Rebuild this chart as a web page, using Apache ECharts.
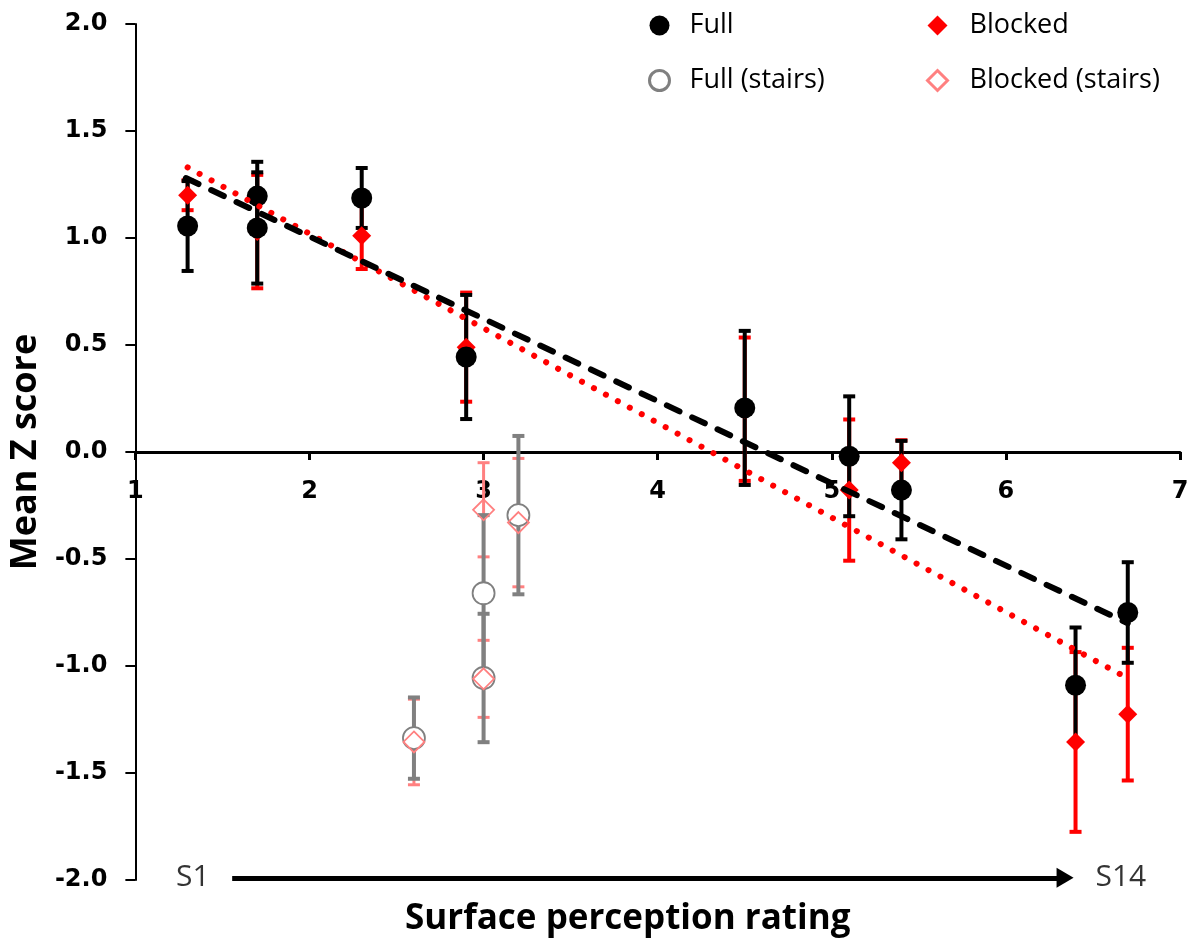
<!DOCTYPE html>
<html>
<head>
    <meta charset="utf-8" />
    <title>Mean Z score vs surface perception rating</title>
    <script src="https://cdn.jsdelivr.net/npm/echarts@6/dist/echarts.min.js"></script>
    <style type="text/css">
        html, body { margin: 0; padding: 0; background: #fff; }
        #chart { width: 1193px; height: 945px; }
    </style>
</head>
<body>
    <div id="chart"></div>
    <script>
        // Full vision
        var fullX = [1.3, 1.7, 1.7, 2.3, 2.9, 4.5, 5.1, 5.4, 6.4, 6.7];
        var fullY = [1.056, 1.196, 1.047, 1.187, 0.444, 0.206, -0.02, -0.178, -1.09, -0.75];
        var fullErr = [0.21, 0.16, 0.26, 0.14, 0.29, 0.36, 0.28, 0.23, 0.27, 0.235];

        // Blocked vision
        var blockedX = [1.3, 1.7, 2.3, 2.9, 4.5, 5.1, 5.4, 6.4, 6.7];
        var blockedY = [1.20, 1.03, 1.01, 0.49, 0.20, -0.178, -0.05, -1.355, -1.225];
        var blockedErr = [0.07, 0.265, 0.155, 0.255, 0.335, 0.33, 0.105, 0.42, 0.31];

        // stairs
        var fullStairsX = [2.6, 3.0, 3.0, 3.2];
        var fullStairsY = [-1.337, -0.66, -1.056, -0.295];
        var fullStairsErr = [0.19, 0.365, 0.30, 0.37];

        var blockedStairsX = [2.6, 3.0, 3.0, 3.2];
        var blockedStairsY = [-1.355, -0.27, -1.06, -0.33];
        var blockedStairsErr = [0.20, 0.22, 0.18, 0.30];

        // trend lines (end points)
        var fullTrendX = [1.29, 6.70];
        var fullTrendY = [1.28, -0.80];
        var blockedTrendX = [1.30, 6.66];
        var blockedTrendY = [1.33, -1.04];

        var xTicks = [1, 2, 3, 4, 5, 6, 7];
        var yTicks = [-2.0, -1.5, -1.0, -0.5, 0.0, 0.5, 1.0, 1.5, 2.0];

        var endLabels = ['S1', 'S14'];
        var endLabelX = [1.33, 6.66];
        var arrowFrom = 1.556, arrowTo = 6.34, arrowY = -1.99;

        var RED = '#FF0000', PINK = '#FF8080', GREY = '#808080';

        function pts(xs, ys) {
            return xs.map(function (x, i) { return [x, ys[i]]; });
        }

        // 误差线
        function errorBars(xs, ys, es, color, width, cap, z) {
            return {
                type: 'custom',
                z: z,
                silent: true,
                data: xs.map(function (x, i) { return [x, ys[i], es[i]]; }),
                encode: { x: 0, y: 1 },
                renderItem: function (params, api) {
                    var x = api.value(0), y = api.value(1), e = api.value(2);
                    var top = api.coord([x, y + e]);
                    var bot = api.coord([x, y - e]);
                    var style = { stroke: color, lineWidth: width };
                    return {
                        type: 'group',
                        children: [
                            { type: 'line', shape: { x1: top[0], y1: top[1], x2: bot[0], y2: bot[1] }, style: style },
                            { type: 'line', shape: { x1: top[0] - cap, y1: top[1], x2: top[0] + cap, y2: top[1] }, style: style },
                            { type: 'line', shape: { x1: bot[0] - cap, y1: bot[1], x2: bot[0] + cap, y2: bot[1] }, style: style }
                        ]
                    };
                }
            };
        }

        var legendText = { fontFamily: 'Open Sans', fontSize: 27, color: '#000' };

        // grid: top 24, bottom 880 -> zero line sits 428px above the bottom
        var gridTop = 24, gridBottom = 65, chartH = 945;

        var option = {
            animation: false,
            backgroundColor: '#fff',
            grid: { left: 133, right: 13, top: gridTop, bottom: gridBottom },
            title: {
                text: 'Surface perception rating',
                left: 405,
                top: 902,
                padding: 0,
                textStyle: { fontFamily: 'Open Sans', fontWeight: 'bold', fontSize: 35, color: '#000' }
            },
            legend: [
                {
                    orient: 'vertical',
                    left: 643,
                    top: 7,
                    itemWidth: 20,
                    itemHeight: 20,
                    itemGap: 28,
                    selectedMode: false,
                    textStyle: Object.assign({ padding: [0, 0, 0, 15] }, legendText),
                    data: [
                        { name: 'Full' },
                        { name: 'Full (stairs)', itemStyle: { borderWidth: 3 } }
                    ]
                },
                {
                    orient: 'vertical',
                    left: 921,
                    top: 7,
                    itemWidth: 20,
                    itemHeight: 20,
                    itemGap: 28,
                    selectedMode: false,
                    textStyle: Object.assign({ padding: [0, 0, 0, 17] }, legendText),
                    data: [
                        { name: 'Blocked' },
                        { name: 'Blocked (stairs)', itemStyle: { borderWidth: 3 } }
                    ]
                }
            ],
            xAxis: {
                type: 'value',
                min: xTicks[0],
                max: xTicks[xTicks.length - 1],
                interval: 1,
                // whole axis (line, ticks, labels) moved up onto y = 0
                offset: -((chartH - gridTop - gridBottom) / 2),
                axisLine: { onZero: false, lineStyle: { color: '#000', width: 3 } },
                axisTick: { show: true, length: 8, lineStyle: { color: '#000', width: 3 } },
                axisLabel: {
                    margin: 28,
                    fontFamily: 'DejaVu Sans',
                    fontWeight: 'bold',
                    fontSize: 24,
                    color: '#000'
                },
                splitLine: { show: false }
            },
            yAxis: {
                type: 'value',
                min: yTicks[0],
                max: yTicks[yTicks.length - 1],
                interval: 0.5,
                name: 'Mean Z score',
                nameLocation: 'middle',
                nameGap: 86,
                nameTextStyle: { fontFamily: 'Open Sans', fontWeight: 'bold', fontSize: 36, color: '#000' },
                axisLine: { show: true, lineStyle: { color: '#000', width: 2 } },
                axisTick: { show: true, length: 10, lineStyle: { color: '#000', width: 2 } },
                axisLabel: {
                    margin: 28,
                    fontFamily: 'DejaVu Sans',
                    fontWeight: 'bold',
                    fontSize: 24,
                    color: '#000',
                    formatter: function (v) { return v.toFixed(1); }
                },
                splitLine: { show: false }
            },
            series: [
                errorBars(blockedX, blockedY, blockedErr, RED, 4, 6, 1),
                errorBars(fullX, fullY, fullErr, '#000', 4, 6, 2),
                errorBars(blockedStairsX, blockedStairsY, blockedStairsErr, PINK, 3, 6, 1),
                errorBars(fullStairsX, fullStairsY, fullStairsErr, GREY, 4, 6, 2),
                {
                    name: 'Blocked',
                    type: 'scatter',
                    z: 3,
                    symbol: 'diamond',
                    symbolSize: 19,
                    itemStyle: { color: RED, opacity: 1 },
                    data: pts(blockedX, blockedY)
                },
                {
                    name: 'Full',
                    type: 'scatter',
                    z: 4,
                    symbol: 'circle',
                    symbolSize: 21,
                    itemStyle: { color: '#000', opacity: 1 },
                    data: pts(fullX, fullY)
                },
                {
                    name: 'Full (stairs)',
                    type: 'scatter',
                    z: 3,
                    symbol: 'circle',
                    symbolSize: 22,
                    itemStyle: { color: '#fff', borderColor: GREY, borderWidth: 1.8, opacity: 1 },
                    data: pts(fullStairsX, fullStairsY)
                },
                {
                    name: 'Blocked (stairs)',
                    type: 'scatter',
                    z: 4,
                    symbol: 'diamond',
                    symbolSize: 21,
                    itemStyle: { color: 'rgba(255,255,255,0)', borderColor: PINK, borderWidth: 1.8, opacity: 1 },
                    data: pts(blockedStairsX, blockedStairsY)
                },
                {
                    type: 'line',
                    z: 5,
                    silent: true,
                    symbol: 'none',
                    lineStyle: { color: RED, width: 6, type: [0.1, 13.5], cap: 'round' },
                    data: pts(blockedTrendX, blockedTrendY)
                },
                {
                    type: 'line',
                    z: 6,
                    silent: true,
                    symbol: 'none',
                    lineStyle: { color: '#000', width: 6, type: [14, 14], cap: 'round' },
                    data: pts(fullTrendX, fullTrendY)
                },
                {
                    // S1 -> S14 arrow and labels
                    type: 'scatter',
                    z: 6,
                    silent: true,
                    symbolSize: 1,
                    itemStyle: { color: 'rgba(0,0,0,0)' },
                    label: {
                        show: true,
                        position: 'inside',
                        fontFamily: 'Open Sans',
                        fontSize: 30,
                        color: '#000',
                        formatter: function (p) { return endLabels[p.dataIndex]; }
                    },
                    data: endLabelX.map(function (x) { return [x, arrowY]; }),
                    markLine: {
                        silent: true,
                        animation: false,
                        label: { show: false },
                        lineStyle: { color: '#000', width: 5, type: 'solid' },
                        data: [[
                            { coord: [arrowFrom, arrowY], symbol: 'none' },
                            { coord: [arrowTo, arrowY], symbol: 'triangle', symbolSize: [20, 17] }
                        ]]
                    }
                }
            ]
        };

        var chart = echarts.init(document.getElementById('chart'));
        chart.setOption(option);
    </script>
</body>
</html>
